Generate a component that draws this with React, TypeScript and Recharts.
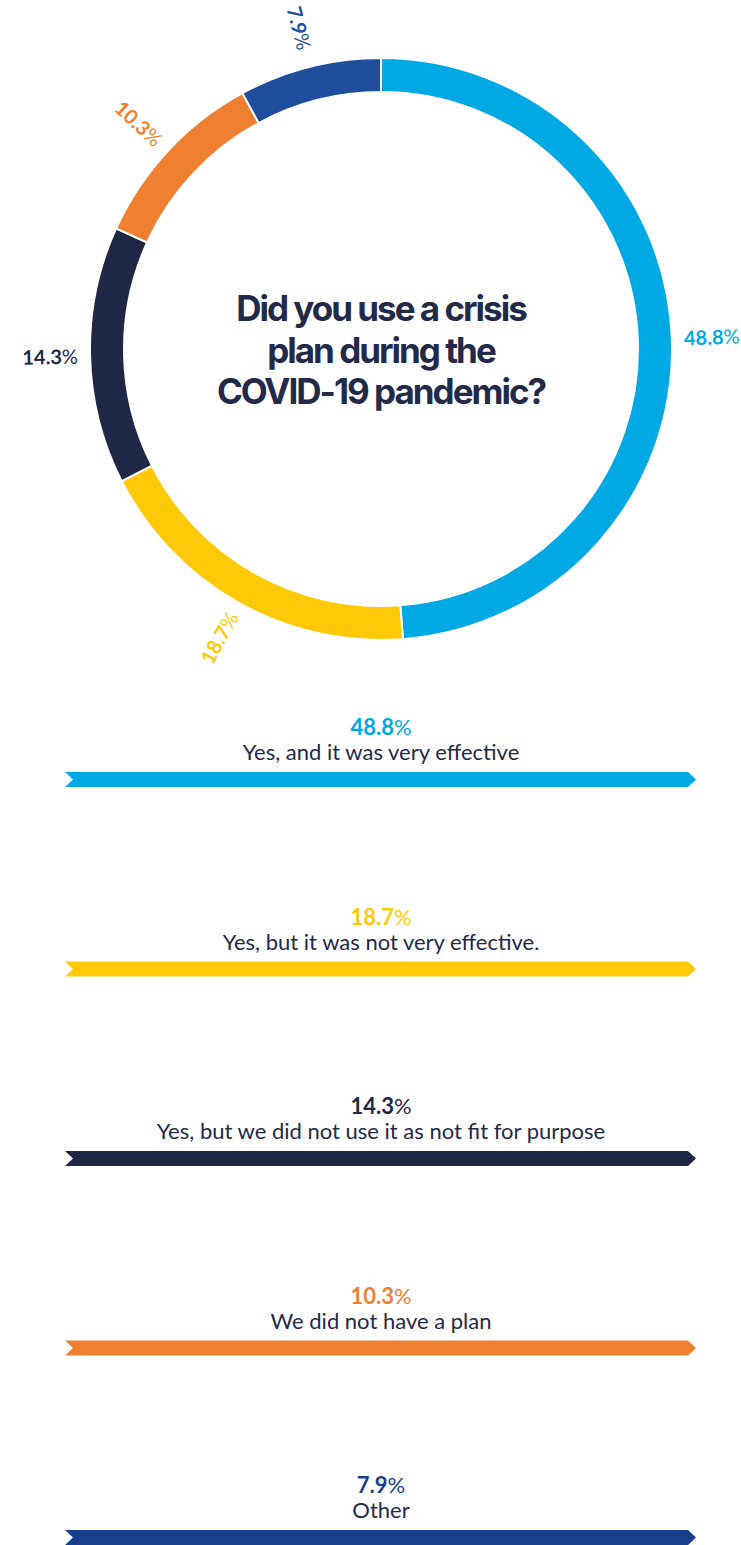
import { PieChart, Pie, Cell } from 'recharts'

// answers, in drawing order (clockwise from 12 o'clock)
const CATEGORIES = [
  'Yes, and it was very effective',
  'Yes, but it was not very effective.',
  'Yes, but we did not use it as not fit for purpose',
  'We did not have a plan',
  'Other',
]
const VALUES = [48.8, 18.7, 14.3, 10.3, 7.9]
const COLORS = ['#00A8E4', '#FFC907', '#1F2747', '#F08031', '#1F4E9C']
const LEGEND_COLORS = ['#00A8E4', '#FFC907', '#1F2747', '#F08031', '#183F8D']
const TITLE_LINES = ['Did you use a crisis', 'plan during the', 'COVID-19 pandemic?']

const INK = '#222A4A'
const RAD = Math.PI / 180

const data = CATEGORIES.map((name, i) => ({ name, value: VALUES[i] }))

function renderLabel(props: any) {
  const { cx, cy, midAngle, outerRadius, index } = props
  const r = outerRadius + 40
  const x = cx + r * Math.cos(-midAngle * RAD)
  const y = cy + r * Math.sin(-midAngle * RAD)
  // keep the text radial but never upside down
  let rot = -midAngle
  while (rot <= -180) rot += 360
  while (rot > 180) rot -= 360
  if (rot > 90) rot -= 180
  if (rot < -90) rot += 180
  return (
    <text
      x={x}
      y={y}
      transform={`rotate(${rot} ${x} ${y})`}
      textAnchor="middle"
      dominantBaseline="central"
      fill={COLORS[index]}
      fontSize={20}
      fontWeight={700}
      fontFamily="Lato, sans-serif"
    >
      {VALUES[index]}
      <tspan fontWeight={400}>%</tspan>
    </text>
  )
}

function ArrowBar({ y, color }: { y: number; color: string }) {
  const left = 65
  const right = 696
  const h = 15
  const pts = [
    [left, y],
    [right - 8, y],
    [right, y + h / 2],
    [right - 8, y + h],
    [left, y + h],
    [left + 8, y + h / 2],
  ]
    .map((p) => p.join(','))
    .join(' ')
  return <polygon points={pts} fill={color} />
}

function LegendList() {
  return (
    <svg
      width={741}
      height={1545}
      style={{ position: 'absolute', left: 0, top: 0, pointerEvents: 'none' }}
    >
      {CATEGORIES.map((cat, i) => {
        const barTop = 772 + i * 189.5
        return (
          <g key={cat}>
            <text
              x={381}
              y={barTop - 37}
              textAnchor="middle"
              fill={LEGEND_COLORS[i]}
              fontSize={22}
              fontWeight={700}
              fontFamily="Lato, sans-serif"
            >
              {VALUES[i]}
              <tspan fontWeight={400}>%</tspan>
            </text>
            <text
              x={381}
              y={barTop - 12}
              textAnchor="middle"
              fill={INK}
              fontSize={22}
              fontFamily="Lato, sans-serif"
            >
              {cat}
            </text>
            <ArrowBar y={barTop} color={LEGEND_COLORS[i]} />
          </g>
        )
      })}
    </svg>
  )
}

export default function App() {
  return (
    <div
      style={{
        position: 'absolute',
        left: 0,
        top: 0,
        width: 741,
        height: 1545,
        background: '#fff',
        overflow: 'hidden',
      }}
    >
      <PieChart width={741} height={700} margin={{ top: 0, right: 0, bottom: 0, left: 0 }}>
        <Pie
          data={data}
          dataKey="value"
          nameKey="name"
          cx={381}
          cy={349}
          innerRadius={257}
          outerRadius={291}
          startAngle={90}
          endAngle={-270}
          stroke="#fff"
          strokeWidth={2}
          label={renderLabel}
          labelLine={false}
          isAnimationActive={false}
        >
          {data.map((d, i) => (
            <Cell key={d.name} fill={COLORS[i]} />
          ))}
        </Pie>
      </PieChart>

      {/* question in the middle of the ring */}
      <div
        style={{
          position: 'absolute',
          left: 181,
          top: 288,
          width: 400,
          textAlign: 'center',
          fontFamily: 'Inter, sans-serif',
          fontWeight: 700,
          fontSize: 35,
          lineHeight: '41.5px',
          letterSpacing: -2,
          color: INK,
        }}
      >
        {TITLE_LINES.map((l) => (
          <div key={l}>{l}</div>
        ))}
      </div>

      <LegendList />
    </div>
  )
}
